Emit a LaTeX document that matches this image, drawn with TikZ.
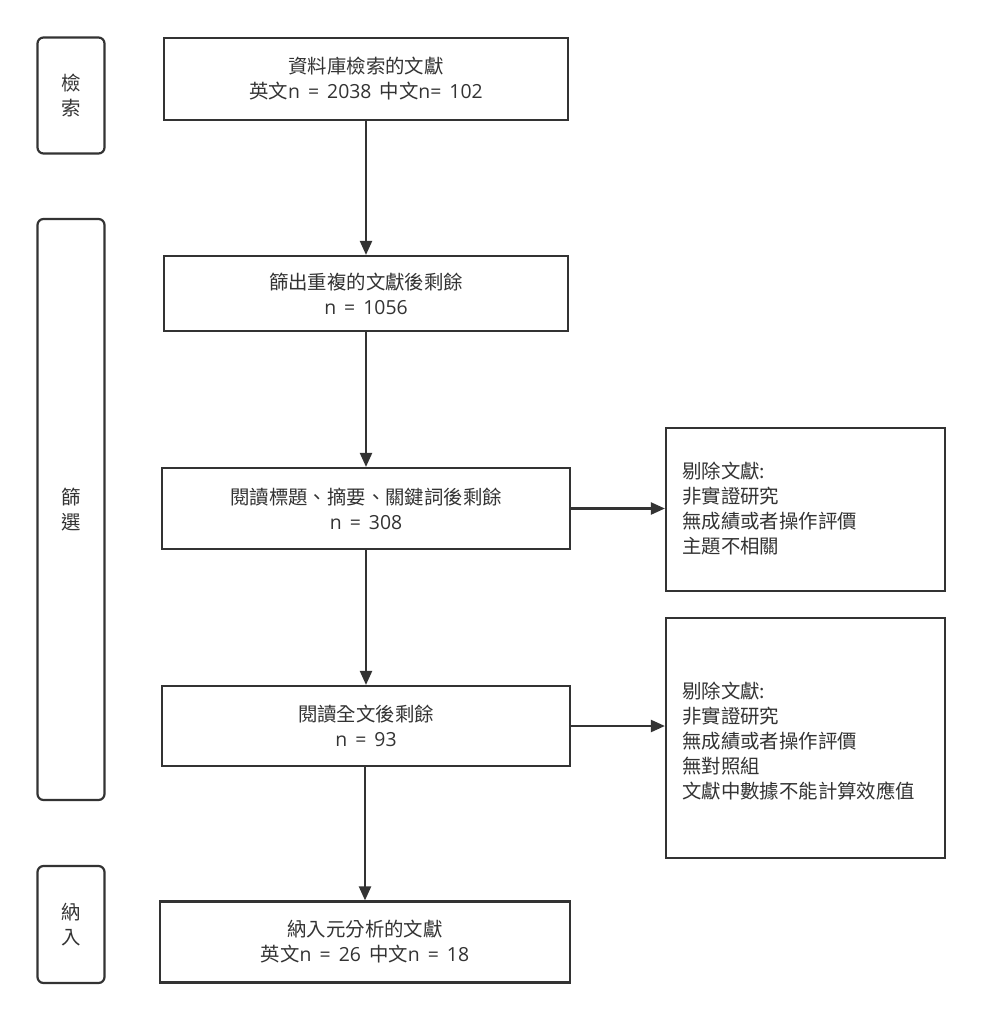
\documentclass[tikz,border=0pt]{standalone}
\usepackage{fontspec}
\setmainfont{Noto Sans CJK TC}
\newfontfamily\lat[WordSpace=1.6]{Open Sans}
\usetikzlibrary{arrows.meta}
\definecolor{ink}{HTML}{333333}
\begin{document}
\begin{tikzpicture}[x=1pt,y=-1pt,
  base/.style={draw=ink, line width=2.2pt, inner sep=0pt, text=ink,
    font=\fontsize{19.4}{25}\selectfont, align=center},
  mainbox/.style={base, minimum width=#1},
  sidebox/.style={base, rounded corners=6pt, minimum width=67pt},
  notebox/.style={base, minimum width=279pt},
  notetext/.style={inner sep=0pt, text=ink, font=\fontsize{19.4}{25}\selectfont, align=left, anchor=west},
  arr/.style={draw=ink, line width=2.2pt, -{Triangle[length=14pt,width=12pt]}}
]
\useasboundingbox (0,0) rectangle (981,1020);
\fill[white] (0,0) rectangle (981,1020);

% main boxes
\node[mainbox=404pt, minimum height=82pt] (b1) at (366,79) {資料庫檢索的文獻\\英文{\lat n = 2038 }中文{\lat n= 102}};
\node[mainbox=404pt, minimum height=75pt] (b2) at (366,293.5) {篩出重複的文獻後剩餘\\{\lat n = 1056}};
\node[mainbox=408pt, minimum height=81pt] (b3) at (366,508.5) {閱讀標題、摘要、關鍵詞後剩餘\\{\lat n = 308}};
\node[mainbox=408pt, minimum height=80pt] (b4) at (366,726) {閱讀全文後剩餘\\{\lat n = 93}};
\node[mainbox=410pt, minimum height=81pt] (b5) at (365,942) {納入元分析的文獻\\英文{\lat n = 26 }中文{\lat n = 18}};

% side boxes
\node[sidebox, minimum height=116pt] (s1) at (71,95.5) {檢\\索};
\node[sidebox, minimum height=581pt] (s2) at (71,509.5) {篩\\選};
\node[sidebox, minimum height=117pt] (s3) at (71,924.5) {納\\入};

% note boxes
\node[notebox, minimum height=163pt] (r1) at (805.5,509.5) {};
\node[notebox, minimum height=240pt] (r2) at (805.5,738) {};
\node[notetext] (t1) at (682,509) {剔除文獻:\\非實證研究\\無成績或者操作評價\\主題不相關};
\node[notetext] (t2) at (682,741) {剔除文獻:\\非實證研究\\無成績或者操作評價\\無對照組\\文獻中數據不能計算效應值};

% connectors
\draw[arr] (b1.south) -- (b2.north);
\draw[arr] (b2.south) -- (b3.north);
\draw[arr] (b3.south) -- (b4.north);
\draw[arr] (b4.south -| b5.north) -- (b5.north);
\draw[arr] (b3.east) -- (b3.east -| r1.west);
\draw[arr] (b4.east) -- (b4.east -| r2.west);
\end{tikzpicture}
\end{document}
